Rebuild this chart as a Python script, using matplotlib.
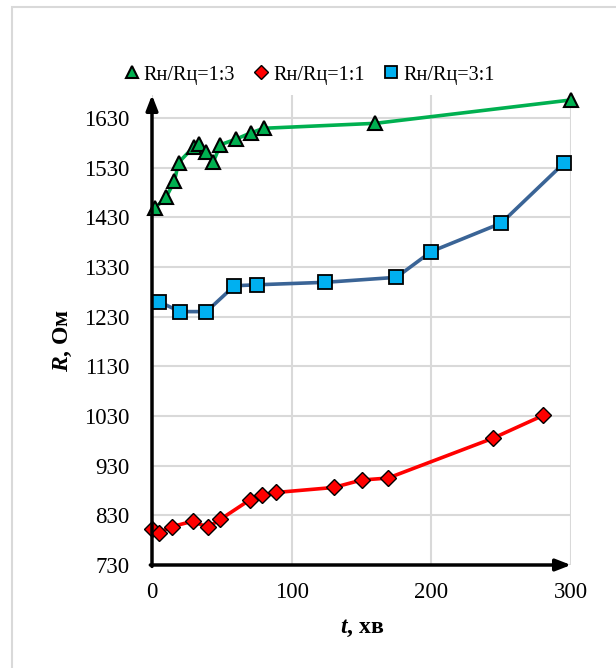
import matplotlib
matplotlib.use("Agg")
import matplotlib.pyplot as plt
from matplotlib.lines import Line2D
from matplotlib.patches import Rectangle

plt.rcParams['font.family'] = ['Liberation Serif', 'DejaVu Serif']
plt.rcParams['mathtext.fontset'] = 'custom'
plt.rcParams['mathtext.it'] = 'Liberation Serif:italic:bold'
plt.rcParams['mathtext.rm'] = 'Liberation Serif:bold'

# ---- data ----
t_13 = [2, 10, 16, 19, 30, 34, 39, 44, 49, 60, 71, 80, 160, 300]
R_13 = [1448, 1470, 1502, 1540, 1572, 1577, 1562, 1542, 1576, 1587, 1600, 1609, 1619, 1666]

t_11 = [0, 5, 14, 29, 40, 49, 70, 79, 89, 130, 150, 169, 244, 280]
R_11 = [802, 795, 807, 818, 806, 822, 861, 871, 876, 886, 901, 905, 985, 1031]

t_31 = [5, 20, 39, 59, 75, 124, 175, 200, 250, 295]
R_31 = [1260, 1240, 1240, 1292, 1294, 1299, 1309, 1361, 1418, 1539]

labels = ['Rн/Rц=1:3', 'Rн/Rц=1:1', 'Rн/Rц=3:1']
yticks = [730, 830, 930, 1030, 1130, 1230, 1330, 1430, 1530, 1630]
xticks = [0, 100, 200, 300]

W, H = 616, 668
fig = plt.figure(figsize=(W / 100, H / 100), dpi=100)
ax = fig.add_axes([152 / W, 1 - 565 / H, (571 - 152) / W, (565 - 95) / H])

# border of the chart area (left and top visible)
fig.patches.append(Rectangle((12 / W, -0.1), 1.2, 1 - 7 / H + 0.1,
                             transform=fig.transFigure, fill=False,
                             edgecolor='#D9D9D9', lw=1.5))

green, red, blue_m, blue_l = '#00B050', '#FF0000', '#00B0F0', '#3A6496'

ax.plot(t_13, R_13, color=green, lw=2.6, marker='^', ms=10,
        mfc=green, mec='black', mew=1.5, zorder=3, clip_on=False)
ax.plot(t_11, R_11, color=red, lw=2.6, marker='D', ms=8.5,
        mfc=red, mec='black', mew=1.0, zorder=3, clip_on=False)
ax.plot(t_31, R_31, color=blue_l, lw=2.6, marker='s', ms=10,
        mfc=blue_m, mec='black', mew=1.3, zorder=3, clip_on=False)

ax.set_xlim(0, 300)
ax.set_ylim(730, 1676)
ax.set_xticks(xticks)
ax.set_yticks(yticks)
ax.tick_params(length=0, labelsize=16.5)
ax.tick_params(axis='y', pad=16)
ax.tick_params(axis='x', pad=12)
ax.grid(True, color='#D9D9D9', lw=1.5)
ax.set_axisbelow(True)
for s in ax.spines.values():
    s.set_visible(False)

# axis arrows
ax.annotate('', xy=(0, 1), xytext=(0, -0.003), xycoords='axes fraction',
            arrowprops=dict(arrowstyle='-|>,head_length=0.9,head_width=0.35',
                            lw=2.5, color='black', shrinkA=0, shrinkB=0))
ax.annotate('', xy=(1, 0), xytext=(-0.004, 0), xycoords='axes fraction',
            arrowprops=dict(arrowstyle='-|>,head_length=0.9,head_width=0.35',
                            lw=2.5, color='black', shrinkA=0, shrinkB=0))

fig.text(63 / W, 1 - 340 / H, r'$\mathit{R}$, Ом', rotation=90, ha='center',
         va='center', fontsize=17, fontweight='bold')
fig.text(362 / W, 1 - 628 / H, r'$\mathit{t}$, хв', ha='center',
         va='center', fontsize=17, fontweight='bold')

handles = [
    Line2D([], [], ls='none', marker='^', ms=9, mfc=green, mec='black', mew=1.5),
    Line2D([], [], ls='none', marker='D', ms=7.5, mfc=red, mec='black', mew=1.0),
    Line2D([], [], ls='none', marker='s', ms=9, mfc=blue_m, mec='black', mew=1.3),
]
fig.legend(handles, labels, loc='center', bbox_to_anchor=(310 / W, 1 - 75 / H),
           ncol=3, frameon=False, fontsize=14.5, handlelength=0.6,
           handletextpad=0.3, columnspacing=1.0, borderaxespad=0)

fig.savefig('out.png', dpi=100)
